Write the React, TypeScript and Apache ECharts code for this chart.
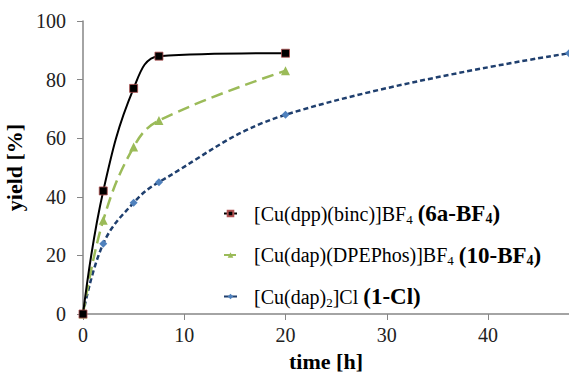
import React, { useEffect, useRef } from "react";
import * as echarts from "echarts";

const blackData: [number, number][] = [[0, 0], [2, 42], [5, 77], [7.5, 88], [20, 89]];
const greenData: [number, number][] = [[0, 0], [2, 32], [5, 57], [7.5, 66], [20, 83]];
const blueData: [number, number][] = [[0, 0], [2, 24], [5, 38], [7.5, 45], [20, 68], [48, 89]];
const seriesNames = ["6a", "10", "1"];
const xTicks = [0, 10, 20, 30, 40];

const FONT = "Liberation Serif";

export default function App() {
  const ref = useRef<HTMLDivElement>(null);
  useEffect(() => {
    if (!ref.current) return;
    const chart = echarts.init(ref.current, undefined, { renderer: "svg" });
    const legendText: Record<string, string> = {
      "6a": "{g|}{n|[Cu(dpp)(binc)]BF}{s|4}{n| }{b|(6a-BF}{bs|4}{b|)}",
      "10": "{g|}{n|[Cu(dap)(DPEPhos)]BF}{s|4}{n| }{b|(10-BF}{bs|4}{b|)}",
      "1": "{g|}{n|[Cu(dap)}{s|2}{n|]Cl }{b|(1-Cl)}",
    };
    chart.setOption({
      animation: false,
      backgroundColor: "#fff",
      grid: { left: 83, right: 0, top: 21, bottom: 61, containLabel: false, outerBoundsMode: "none" },
      xAxis: {
        type: "value",
        min: 0,
        max: 48,
        interval: 10,
        name: "time [h]",
        nameLocation: "middle",
        nameGap: 36,
        nameTextStyle: { fontFamily: FONT, fontSize: 22, fontWeight: "bold", color: "#000" },
        axisLine: { lineStyle: { color: "#868686", width: 1.5 } },
        axisTick: { show: true, inside: false, length: 6, lineStyle: { color: "#868686" } },
        axisLabel: {
          fontFamily: FONT, fontSize: 20, color: "#222", margin: 11,
          formatter: (v: number) => (xTicks.includes(v) ? String(v) : ""),
          showMaxLabel: false,
        },
        splitLine: { show: false },
      },
      yAxis: {
        type: "value",
        min: 0,
        max: 100,
        interval: 20,
        name: "yield [%]",
        nameLocation: "middle",
        nameGap: 47,
        nameTextStyle: { fontFamily: FONT, fontSize: 22, fontWeight: "bold", color: "#000" },
        axisLine: { show: true, lineStyle: { color: "#868686", width: 1.5 } },
        axisTick: { show: true, length: 6, lineStyle: { color: "#868686" } },
        axisLabel: { fontFamily: FONT, fontSize: 20, color: "#222", margin: 17 },
        splitLine: { show: false },
      },
      legend: {
        orient: "vertical",
        left: 218,
        top: 197,
        itemWidth: 13,
        itemHeight: 7,
        itemGap: 18,
        data: seriesNames,
        formatter: (name: string) => legendText[name],
        textStyle: {
          fontFamily: FONT,
          fontSize: 20,
          color: "#000",
          rich: {
            g: { width: 12, lineHeight: 24 },
            n: { fontFamily: FONT, fontSize: 20, color: "#000", lineHeight: 24, verticalAlign: "middle" },
            b: { fontFamily: FONT, fontSize: 23, fontWeight: "bold", color: "#000", lineHeight: 24, verticalAlign: "middle" },
            s: { fontFamily: FONT, fontSize: 13, color: "#000", lineHeight: 24, verticalAlign: "bottom" },
            bs: { fontFamily: FONT, fontSize: 14, fontWeight: "bold", color: "#000", lineHeight: 24, verticalAlign: "bottom" },
          },
        },
      },
      series: [
        {
          name: "6a",
          type: "line",
          data: blackData,
          smooth: 0.4,
          symbol: "rect",
          symbolSize: 8,
          lineStyle: { color: "#000", width: 2 },
          itemStyle: { color: "#000", borderColor: "#b05050", borderWidth: 0.8 },
          z: 4,
        },
        {
          name: "10",
          type: "line",
          data: greenData,
          smooth: 0.4,
          symbol: "triangle",
          symbolSize: 9,
          lineStyle: { color: "#9BBB59", width: 2.5, type: [12, 6] },
          itemStyle: { color: "#9BBB59" },
          z: 3,
        },
        {
          name: "1",
          type: "line",
          data: blueData,
          smooth: 0.4,
          symbol: "diamond",
          symbolSize: 8,
          lineStyle: { color: "#1F3F6E", width: 2.5, type: [5, 3] },
          itemStyle: { color: "#4F81BD" },
          z: 2,
        },
      ],
    });
    return () => chart.dispose();
  }, []);
  return <div ref={ref} style={{ position: "fixed", left: 0, top: 0, width: 569, height: 375 }} />;
}
